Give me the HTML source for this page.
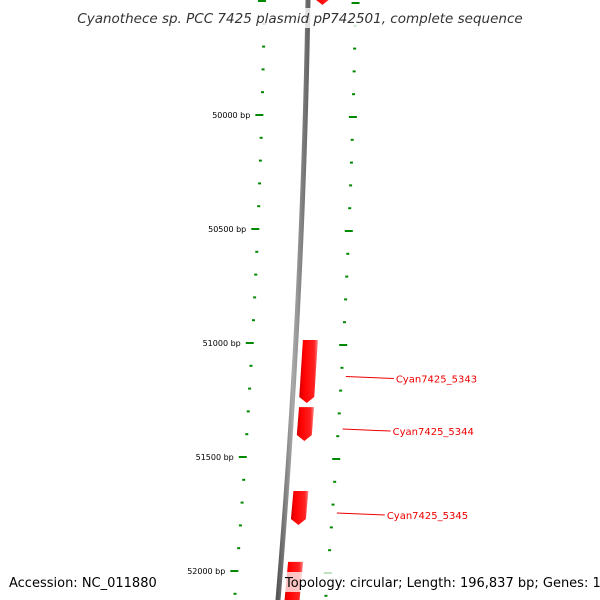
<!DOCTYPE html>
<html><head><meta charset="utf-8"><style>
body{margin:0;background:#fff}
svg{display:block;font-family:"DejaVu Sans","Liberation Sans",sans-serif}
</style></head><body>
<svg id="c" width="600" height="600" viewBox="0 0 600 600">
<defs>
<linearGradient id="bb" x1="0" x2="1" y1="0" y2="0"><stop offset="0" stop-color="#555"/><stop offset="0.5" stop-color="#aaa"/><stop offset="1" stop-color="#666"/></linearGradient>
<linearGradient id="gg" x1="0" x2="1" y1="0" y2="0"><stop offset="0" stop-color="#c00"/><stop offset="0.25" stop-color="#f00"/><stop offset="0.8" stop-color="#f22"/><stop offset="1" stop-color="#f88"/></linearGradient>
</defs>
<g id="ticks"></g>
<path id="backbone" fill="none" stroke="url(#bb)" stroke-width="5"></path>
<g id="genes"></g>
<g id="labels"></g>
<rect x="70" y="8" width="460" height="20" fill="#fff" fill-opacity="0.8"/>
<text x="300" y="23" text-anchor="middle" font-size="13.5" font-style="italic" fill="#333">Cyanothece sp. PCC 7425 plasmid pP742501, complete sequence</text>
<rect x="283" y="572" width="310" height="20" fill="#fff" fill-opacity="0.75"/>
<text x="9" y="587" font-size="13" fill="#000">Accession: NC_011880</text>
<text x="285" y="587" font-size="13" fill="#000">Topology: circular; Length: 196,837 bp; Genes: 160</text>
</svg>
<script>
const tickStart = 49500;
const tickEnd = 52200;
const majorLabels = ["50000 bp","50500 bp","51000 bp","51500 bp","52000 bp"];
const majorValues = [50000,50500,51000,51500,52000];
const geneNames = ["gene-top","Cyan7425_5343","Cyan7425_5344","Cyan7425_5345","gene-bottom"];
const geneStarts = [49440,50987,51281,51649,51960];
const geneEnds = [49517,51263,51430,51798,52200];
const labeled = [false,true,true,true,false];

const NS="http://www.w3.org/2000/svg";
function Y(bp){return 1+(bp-49500)*0.228;}
function BX(y){return 308-0.01667*y-5.56e-5*y*y;}
function mk(t,a,p){const e=document.createElementNS(NS,t);for(const k in a)e.setAttribute(k,a[k]);p.appendChild(e);return e;}
// backbone
let d="";for(let y=-5;y<=605;y+=5){d+=(y<0?"M":"L")+BX(y).toFixed(2)+","+y+" ";}
document.getElementById("backbone").setAttribute("d",d);
const tg=document.getElementById("ticks");
for(let bp=tickStart;bp<=tickEnd;bp+=100){
  const major=bp%500===0;
  const yl=Y(bp),yr=Y(bp)+2;
  const bl=BX(yl),br=BX(yr);
  const l=mk("line",{x1:bl-42-(major?8:3),x2:bl-42,y1:yl,y2:yl,stroke:"#080",'stroke-width':2},tg);
  
  
  const c=br+47.6;
  const r=mk("line",{x1:c-(major?4:1.5),x2:c+(major?4:1.5),y1:yr,y2:yr,stroke:"#080",'stroke-width':2},tg);
  
  
  const i=majorValues.indexOf(bp);
  if(i>=0){const t=mk("text",{x:bl-55,y:yl+3,'font-size':8,'text-anchor':'end',fill:'#000'},tg);t.textContent=majorLabels[i];
  
  }
}
const gg=document.getElementById("genes"),lg=document.getElementById("labels");
geneNames.forEach((n,i)=>{
  const y1=Y(geneStarts[i]),y2=Y(geneEnds[i]);
  const b1=BX(y1),b2=BX(y2);
  const a=Math.min(6,(y2-y1)/3);
  const pts=[[b1+7,y1],[b1+22,y1],[b2+22,y2-a],[b2+14.5,y2],[b2+7,y2-a]];
  const p=mk("polygon",{points:pts.map(q=>q.join(",")).join(" "),fill:"url(#gg)"},gg);
  
  
  if(labeled[i]){
    const ym=(y1+y2)/2+5;const bx=BX(ym)+52;
    const ln=mk("line",{x1:bx,y1:ym,x2:bx+48,y2:ym+2,stroke:"#e00",'stroke-width':1},lg);
    
    
    const t=mk("text",{x:bx+50,y:ym+6,'font-size':10,fill:'#e00'},lg);t.textContent=n;
    
    
  }
});
</script>
</body></html>
